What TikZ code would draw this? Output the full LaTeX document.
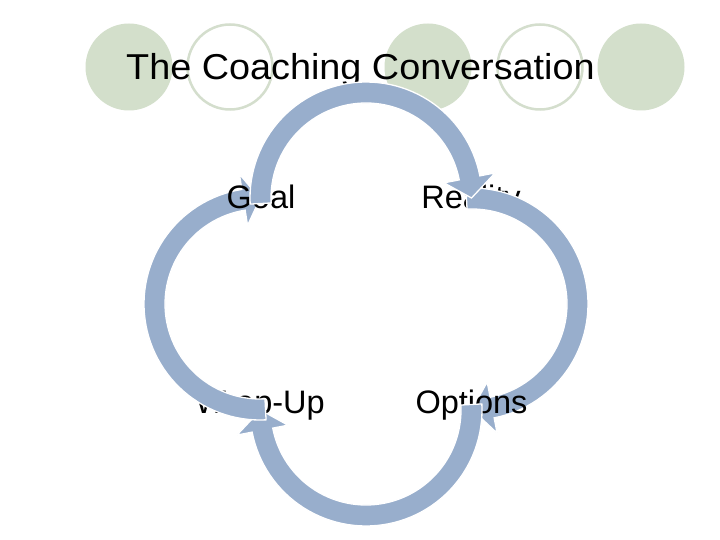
\documentclass[tikz,border=0pt]{standalone}
\usepackage{fontspec}
\setmainfont{Liberation Sans}
\definecolor{arrowblue}{RGB}{152,174,204}
\definecolor{sage}{RGB}{211,223,203}
\definecolor{sageline}{RGB}{212,222,205}
% #1,#2 centre; #3 tail angle; #4 head-base angle; #5 tip angle
\newcommand\cyclearc[5]{%
  \filldraw[cyclearrow]
    plot[domain=#3:#4,samples=60] ({#1+116*cos(\x)},{#2+116*sin(\x)})
    -- ({#1+131.5*cos(#4)},{#2+131.5*sin(#4)})
    -- ({#1+105.5*cos(#5)},{#2+105.5*sin(#5)})
    -- ({#1+79.5*cos(#4)},{#2+79.5*sin(#4)})
    -- plot[domain=#4:#3,samples=60] ({#1+95*cos(\x)},{#2+95*sin(\x)})
    -- cycle;}
\tikzset{
  cyclearrow/.style={fill=arrowblue, draw=white, line width=1.3pt, line join=miter},
  dotfill/.style={circle, inner sep=0pt, minimum size=87pt, fill=sage},
  dotring/.style={circle, inner sep=0pt, minimum size=85pt, draw=sageline, line width=2.5pt},
  label/.style={anchor=base, inner sep=0pt, font=\fontsize{32.5}{36}\selectfont},
}
\begin{document}
\begin{tikzpicture}[x=1pt,y=-1pt]
\useasboundingbox (0,0) rectangle (720,540);
\fill[white] (0,0) rectangle (720,540);
% background circles
\node[dotfill] (c1) at (129,67) {};
\node[dotring] (c2) at (230,67) {};
\node[dotfill] (c3) at (428,67) {};
\node[dotring] (c4) at (540,67) {};
\node[dotfill] (c5) at (641,67) {};
% title
\node[anchor=base west, inner sep=0pt, font=\fontsize{36}{40}\selectfont] (title) at (126,80) {\scalebox{1.05}[1]{The Coaching Conversation}};
% labels and cycle arrows, layered as in the reference
\node[label] (reality) at (471,208) {Reality};
\cyclearc{472}{304}{267}{439}{450}  % Reality -> Options
\node[label] (options) at (471.5,413) {Options};
\cyclearc{366}{410}{-3}{169}{180}   % Options -> Wrap-Up
\node[label] (wrapup) at (260,413) {Wrap-Up};
\cyclearc{260}{304}{87}{261}{270}   % Wrap-Up -> Goal
\node[label] (goal) at (261,208) {Goal};
\cyclearc{366}{198}{177}{349}{360}  % Goal -> Reality
\end{tikzpicture}
\end{document}
